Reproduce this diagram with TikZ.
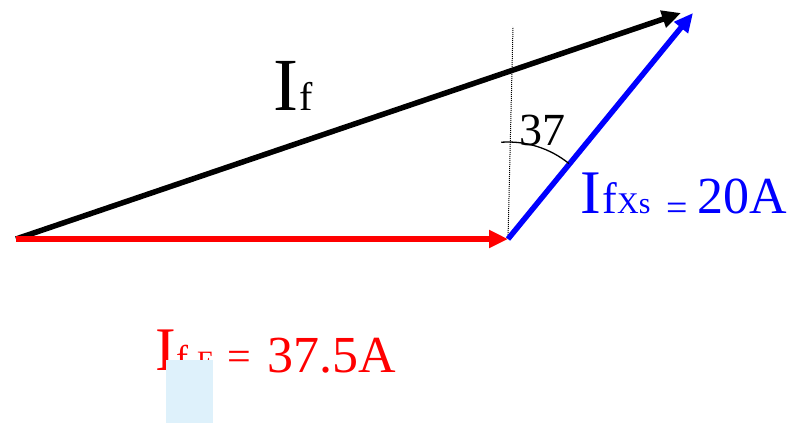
\documentclass[tikz,border=0pt]{standalone}
\usepackage{fontspec}
\setmainfont{Liberation Serif}
\usetikzlibrary{arrows.meta}
\definecolor{myblue}{RGB}{0,0,255}
\definecolor{myred}{RGB}{255,0,0}
\definecolor{patch}{RGB}{222,241,251}
\newcommand{\fs}[1]{\fontsize{#1}{#1}\selectfont}
\tikzset{
  vec/.style={line width=5.5pt, -{Triangle[length=19pt,width=17pt]}},
  lbl/.style={inner sep=0pt, anchor=base west},
}
\begin{document}
\begin{tikzpicture}[x=1pt,y=-1pt]
\path[use as bounding box] (0,0) rectangle (791,423);
\coordinate (O) at (16,239);
\coordinate (R) at (508,239);
\coordinate (B) at (693,13);
\coordinate (K) at (681,13);
\coordinate (D) at (513,27);
\draw[densely dotted, line width=1pt] (R) -- (D);
\draw[vec, black] (O) -- (K);
\draw[vec, myred] (O) -- (R);
\draw[vec, myblue] (R) -- (B);
\draw[line width=1.3pt] (R) ++(94:97pt) arc[start angle=94, end angle=51, radius=97pt];
\node[lbl] (ang) at (519,145) {\fs{46}37};
% I_f
\node[lbl] (lfI) at (273,110) {\fs{75}I};
\node[lbl] (lff) at (299,110) {\fs{40}f};
% I_fXs = 20A
\begin{scope}[text=myblue]
\node[lbl] (xI) at (580,213) {\fs{62}I};
\node[lbl] (xf) at (602,213) {\fs{44}f};
\node[lbl] (xX) at (617,213) {\fs{30}Xs};
\node[lbl] (xe) at (666,220) {\fs{38}=};
\node[lbl] (xv) at (697,213) {\fs{52}20A};
\end{scope}
% I_fE = 37.5A
\begin{scope}[text=myred]
\node[lbl] (eI) at (155,370) {\fs{62}I};
\node[lbl] (ef) at (176,370) {\fs{36}f};
\node[lbl] (eE) at (197,370) {\fs{28}E};
\node[lbl] (ee) at (227,370) {\fs{42}=};
\node[lbl] (ev) at (267,372) {\fs{52}37.5A};
\end{scope}
\fill[patch] (166,360) rectangle (213,423);
\end{tikzpicture}
\end{document}
